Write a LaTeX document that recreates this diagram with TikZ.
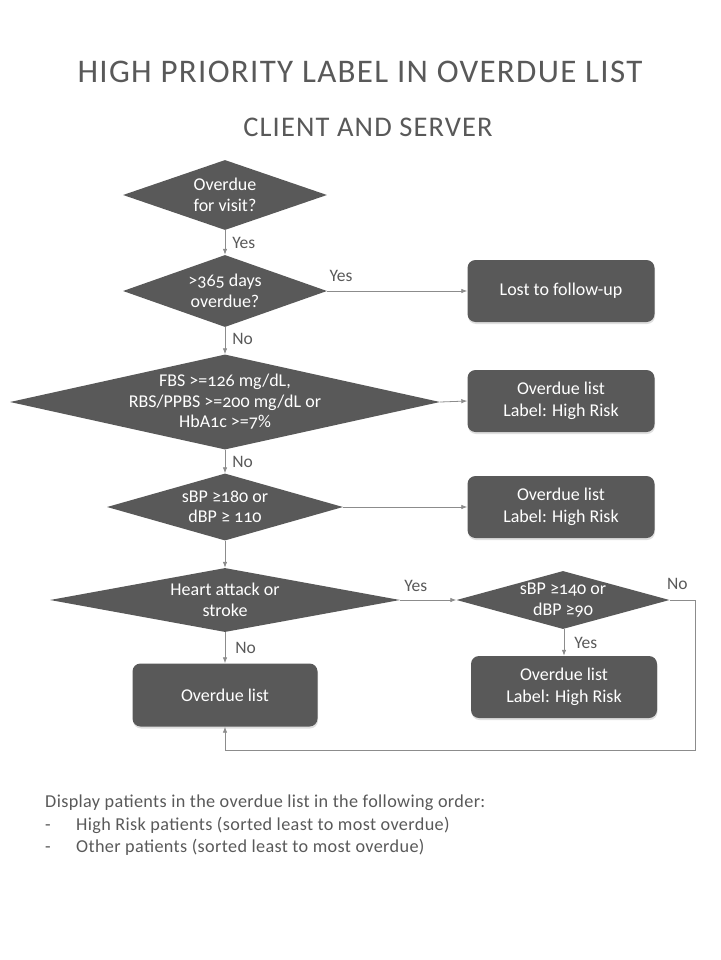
\documentclass[tikz,border=0pt]{standalone}
\usepackage{fontspec}
\setmainfont{Carlito}
\newfontfamily\boxfont[Numbers=OldStyle]{Carlito}
\newfontfamily\titlefont[LetterSpace=4]{Carlito}
\newfontfamily\notefont[LetterSpace=2]{Carlito}
\usetikzlibrary{arrows.meta,shapes.geometric,shadows}
\definecolor{shapegray}{HTML}{595959}
\definecolor{linegray}{HTML}{8C8C8C}
\definecolor{inkgray}{HTML}{595959}

\tikzset{
  decision/.style 2 args={diamond, fill=shapegray, inner sep=0pt,
    minimum width=#1pt, minimum height=#2pt},
  dlabel/.style={text=white, align=center, inner sep=0pt,
    font=\boxfont\fontsize{18}{20.5}\selectfont},
  outcome/.style={rectangle, rounded corners=8pt, fill=shapegray, text=white,
    minimum width=187pt, minimum height=62pt, align=center,
    font=\boxfont\fontsize{18}{22}\selectfont,
    drop shadow={opacity=0.25, shadow xshift=0.5pt, shadow yshift=-2pt}},
  flow/.style={draw=linegray, line width=0.8pt, -{Latex[length=6pt,width=4.5pt]}},
  branch/.style={text=inkgray, inner sep=2pt, font=\boxfont\fontsize{17.5}{20}\selectfont},
}

\begin{document}
\begin{tikzpicture}[x=1pt, y=-1pt]
    \useasboundingbox (0,0) rectangle (720,960);
    % titles
    \node[text=inkgray, font=\titlefont\fontsize{33}{36}\selectfont] (title) at (360,72) {HIGH PRIORITY LABEL IN OVERDUE LIST};
    \node[text=inkgray, font=\titlefont\fontsize{28.5}{31}\selectfont] (subtitle) at (368,127) {CLIENT AND SERVER};
    % decisions
    \node[decision={204}{70}, label={[dlabel]center:{Overdue\\for visit?}}] (visit) at (225,195) {};
    \node[decision={204}{72}, label={[dlabel]center:{>365 days\\overdue?}}] (days) at (225,291) {};
    \node[decision={430}{95}, label={[dlabel]center:{FBS >=126 mg/dL,\\RBS/PPBS >=200 mg/dL or\\HbA1c >=7\%}}] (sugar) at (225,402) {};
    \node[decision={236}{67}, label={[dlabel]center:{sBP ≥180 or\\dBP ≥ 110}}] (bphigh) at (225,507) {};
    \node[decision={350}{64}, label={[dlabel]center:{Heart attack  or\\stroke}}] (heart) at (225,600) {};
    \node[decision={213}{58}, label={[dlabel]center:{sBP ≥140 or\\dBP ≥90}}] (bplow) at (563,600) {};
    % outcomes
    \node[outcome] (lost) at (561,291) {Lost to follow-up};
    \node[outcome] (risksugar) at (561,401) {Overdue list\\Label: High Risk};
    \node[outcome] (riskbp) at (561,507) {Overdue list\\Label: High Risk};
    \node[outcome, minimum width=186pt] (riskheart) at (564,687) {Overdue list\\Label: High Risk};
    \node[outcome, minimum width=185pt, minimum height=63pt] (overdue) at (225,695) {Overdue list};
    \coordinate (backturn) at (695,750);
    % connectors
    \draw[flow] (visit) -- node[branch, right=5pt] {Yes} (days);
    \draw[flow] (days.east) -- node[branch, pos=0, above right, yshift=7pt] {Yes} (lost.west);
    \draw[flow] (days) -- node[branch, right=5pt, yshift=2pt] {No} (sugar);
    \draw[flow] (sugar.east) -- (risksugar.west);
    \draw[flow] (sugar) -- node[branch, right=5pt] {No} (bphigh);
    \draw[flow] (bphigh.east) -- (riskbp.west);
    \draw[flow] (bphigh) -- (heart);
    \draw[flow] (heart.east) -- node[branch, pos=0.03, above right, yshift=6pt] {Yes} (bplow.west);
    \draw[flow] (heart) -- node[branch, right=8pt] {No} (overdue);
    \draw[flow] (bplow.south -| riskheart.north) -- node[branch, right=8pt] {Yes} (riskheart.north);
    \draw[flow] (bplow.east) -| node[branch, pos=0, above right, xshift=-5pt, yshift=8pt] {No} (backturn) -| (overdue.south);
    % note
    \node[anchor=north west, align=left, text=inkgray, inner sep=0pt,
          font=\notefont\fontsize{18.2}{22.5}\selectfont] (note) at (45,795)
      {Display patients in the overdue list in the following order:\\
       \makebox[31pt][l]{-}High Risk patients (sorted least to most overdue)\\
       \makebox[31pt][l]{-}Other patients (sorted least to most overdue)};
\end{tikzpicture}
\end{document}
